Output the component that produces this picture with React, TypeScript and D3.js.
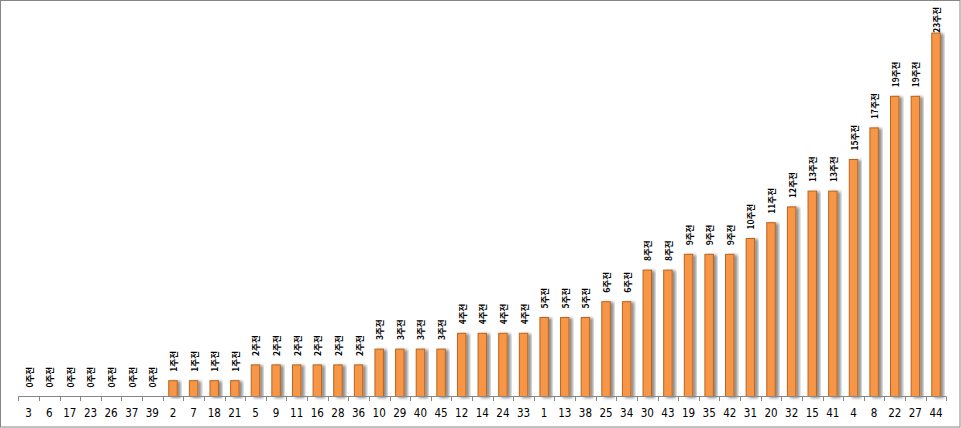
import { useEffect, useRef } from "react";
import * as d3 from "d3";

// lotto numbers sorted by how many weeks since they last came out
const numbers = [
  "3", "6", "17", "23", "26", "37", "39", "2", "7", "18", "21", "5", "9", "11", "16",
  "28", "36", "10", "29", "40", "45", "12", "14", "24", "33", "1", "13", "38", "25", "34",
  "30", "43", "19", "35", "42", "31", "20", "32", "15", "41", "4", "8", "22", "27", "44",
];
const weeksAgo = [
  0, 0, 0, 0, 0, 0, 0, 1, 1, 1, 1, 2, 2, 2, 2,
  2, 2, 3, 3, 3, 3, 4, 4, 4, 4, 5, 5, 5, 6, 6,
  8, 8, 9, 9, 9, 10, 11, 12, 13, 13, 15, 17, 19, 19, 23,
];
const yMax = 25;

const WIDTH = 961;
const HEIGHT = 428;
const PLOT = { left: 18.3, right: 946.3, top: 1.5, bottom: 396.5 };

export default function App() {
  const svgRef = useRef<SVGSVGElement>(null);

  useEffect(() => {
    if (!svgRef.current) return;
    const svg = d3.select(svgRef.current);
    svg.selectAll("*").remove();

    const defs = svg.append("defs");
    const f = defs
      .append("filter")
      .attr("id", "shadow")
      .attr("x", "-50%")
      .attr("y", "-10%")
      .attr("width", "200%")
      .attr("height", "120%");
    f.append("feDropShadow")
      .attr("dx", 3)
      .attr("dy", 1)
      .attr("stdDeviation", 1.4)
      .attr("flood-color", "#000")
      .attr("flood-opacity", 0.45);

    svg
      .append("rect")
      .attr("x", 0.5)
      .attr("y", 0.5)
      .attr("width", WIDTH - 1.5)
      .attr("height", HEIGHT - 1.5)
      .attr("fill", "#fff")
      .attr("stroke", "#868686");

    const x = d3
      .scaleBand()
      .domain(numbers)
      .range([PLOT.left, PLOT.right])
      .padding(0);

    const y = d3.scaleLinear().domain([0, yMax]).range([PLOT.bottom, PLOT.top]);

    const barW = x.bandwidth() * 0.41;
    const data = numbers.map((n, i) => ({ n, v: weeksAgo[i] }));

    svg
      .append("g")
      .selectAll("rect")
      .data(data.filter((d) => d.v > 0))
      .join("rect")
      .attr("x", (d) => (x(d.n) ?? 0) + (x.bandwidth() - barW) / 2)
      .attr("y", (d) => y(d.v))
      .attr("width", barW)
      .attr("height", (d) => PLOT.bottom - y(d.v))
      .attr("fill", "#F79646")
      .attr("stroke", "#B7651F")
      .attr("stroke-width", 1)
      .attr("filter", "url(#shadow)");

    // axis line and ticks between categories
    const axis = svg.append("g").attr("stroke", "#868686").attr("stroke-width", 1);
    axis
      .append("line")
      .attr("x1", PLOT.left)
      .attr("x2", PLOT.right)
      .attr("y1", PLOT.bottom)
      .attr("y2", PLOT.bottom);
    axis
      .selectAll("line.tick")
      .data(d3.range(numbers.length + 1))
      .join("line")
      .attr("class", "tick")
      .attr("x1", (i) => Math.round(PLOT.left + i * x.step()) + 0.5)
      .attr("x2", (i) => Math.round(PLOT.left + i * x.step()) + 0.5)
      .attr("y1", PLOT.bottom)
      .attr("y2", PLOT.bottom + 4.5);

    svg
      .append("g")
      .selectAll("text")
      .data(numbers)
      .join("text")
      .attr("x", (d) => (x(d) ?? 0) + x.bandwidth() / 2)
      .attr("y", 417)
      .attr("text-anchor", "middle")
      .attr("font-family", "'DejaVu Sans Condensed', 'DejaVu Sans', sans-serif")
      .attr("font-size", 11.5)
      .attr("fill", "#000")
      .text((d) => d);

    // vertical value labels, kept inside the chart at the top
    const labels = svg
      .append("g")
      .selectAll<SVGTextElement, { n: string; v: number }>("text")
      .data(data)
      .join("text")
      .attr("font-family", "'Noto Sans CJK KR', sans-serif")
      .attr("font-size", 8.5)
      .attr("font-weight", 700)
      .attr("fill", "#000")
      .text((d) => `${d.v}주전`);

    labels.each(function (d) {
      const len = this.getComputedTextLength();
      const cx = (x(d.n) ?? 0) + x.bandwidth() / 2;
      const bottom = Math.max(y(d.v) - 9, 7 + len);
      d3.select(this).attr(
        "transform",
        `translate(${cx + 4},${bottom}) rotate(-90)`
      );
    });
  }, []);

  return (
    <svg
      ref={svgRef}
      width={WIDTH}
      height={HEIGHT}
      style={{ position: "absolute", left: 0, top: 0 }}
    />
  );
}
